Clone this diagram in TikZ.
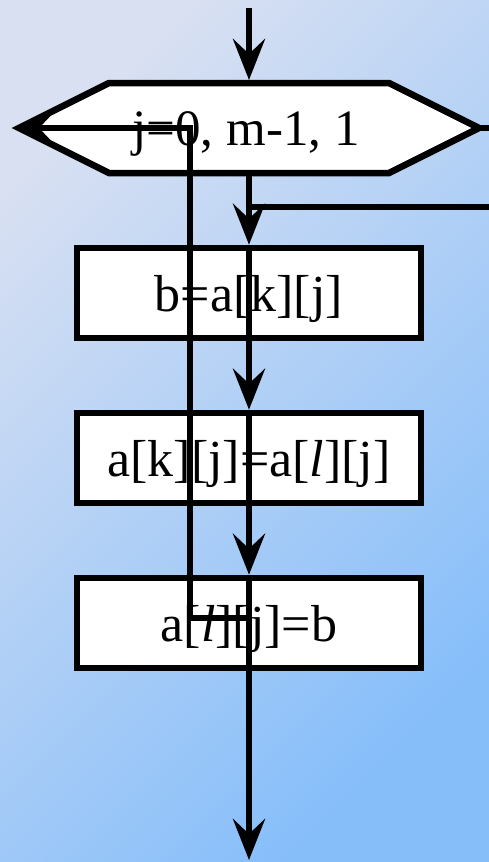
\documentclass[tikz,border=0pt]{standalone}
\usepackage{fontspec}
\setmainfont{Liberation Serif}
\usetikzlibrary{arrows.meta}
\definecolor{bgA}{RGB}{216,224,242}
\definecolor{bgB}{RGB}{134,190,250}
\begin{document}
\begin{tikzpicture}[x=1pt,y=-1pt,
  line width=6.5pt,
  txt/.style={font=\fontsize{52}{62}\selectfont},
  box/.style={txt, draw, fill=white, minimum width=344pt, minimum height=90pt,
    inner sep=0pt, text height=37pt, text depth=0pt},
  arr/.style={-{Stealth[length=41pt,width=32pt,inset=15pt]}},
]
\shade[top color=bgA, bottom color=bgB, shading angle=45, line width=0pt]
  (0,0) rectangle (489,862);
\useasboundingbox (0,0) rectangle (489,862);

% hexagon (loop header)
\coordinate (hexW) at (19,128);
\coordinate (hexE) at (479,128);
\coordinate (hexN) at (249,83);
\coordinate (hexS) at (249,173);
\draw[fill=white, line join=miter] (hexW) -- (109,83) -- (389,83) -- (hexE)
  -- (389,173) -- (109,173) -- cycle;
\node[font=\fontsize{51}{61}\selectfont, anchor=base, inner sep=0pt] (hex) at (246,145) {j=0, m-1, 1};

% boxes
\node[box] (b1) at (249,293) {b=a[k][j]};
\node[box] (b2) at (249,458) {a[k][j]=a[\textit{l}][j]};
\node[box] (b3) at (249,623) {a[\textit{l}][j]=b};

% free ends
\coordinate (top) at (249,8);
\coordinate (bot) at (249,860);
\coordinate (rOut) at (489,128);
\coordinate (rIn) at (489,207);
\coordinate (j1) at (249,207);
\coordinate (l1) at (249,618);
\coordinate (l2) at (190,618);

% connectors
\draw[arr, shorten >=3pt] (top) -- (hexN);
\draw[arr] (hexS) -- (b1.north);
\draw[arr] (b1.north) -- (b2.north);
\draw[arr] (b2.north) -- (b3.north);
\draw[arr] (b3.north) -- (bot);
\draw (hexE) -- (rOut);
\draw (rIn) -- (j1);
\draw[arr, shorten >=-6pt] (l1) -- (l2) |- (hexW);
\end{tikzpicture}
\end{document}
